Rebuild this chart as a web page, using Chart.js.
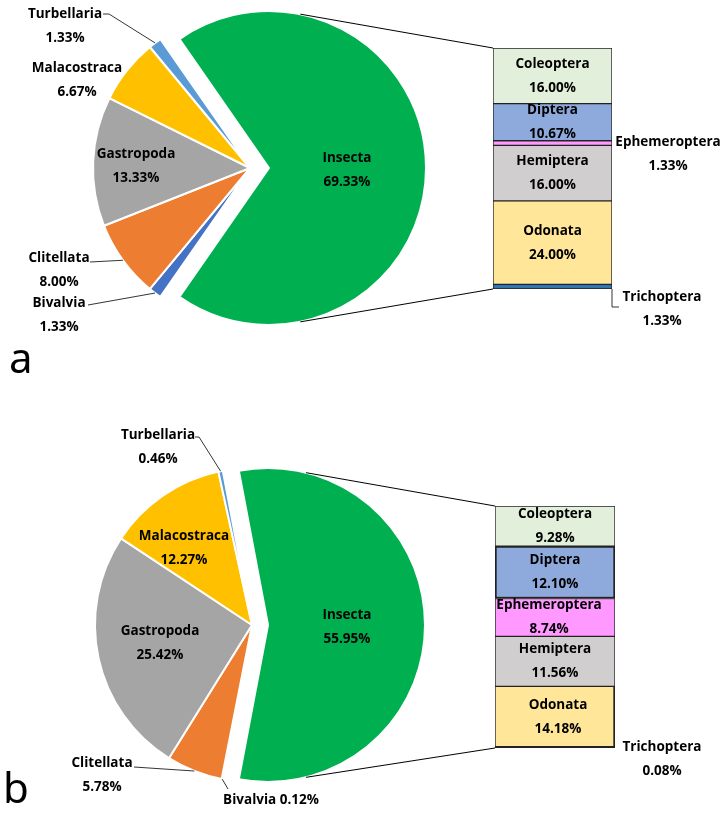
<!DOCTYPE html>
<html><head><meta charset="utf-8">
<script src="https://cdn.jsdelivr.net/npm/chart.js@4.4.0/dist/chart.umd.min.js"></script>
<style>
html,body{margin:0;padding:0;background:#fff;}
.panel{position:absolute;left:0;width:728px;}
.panel canvas{position:absolute;left:0;top:0;}
.tag{position:absolute;font:42px 'Noto Sans',sans-serif;color:#000;line-height:1;}
</style></head><body>
<div class="panel" style="top:0;height:400px"><canvas id="pieA" width="728" height="400"></canvas><canvas id="barA" width="728" height="400"></canvas><div class="tag" style="left:9px;top:336px">a</div></div>
<div class="panel" style="top:400px;height:414px"><canvas id="pieB" width="728" height="414"></canvas><canvas id="barB" width="728" height="414"></canvas><div class="tag" style="left:3px;top:366px">b</div></div>
<script>
/* pie-of-bar: class composition, Insecta split into orders */
const classes=['Insecta','Bivalvia','Clitellata','Gastropoda','Malacostraca','Turbellaria'];
const classColors=['#00B050','#4472C4','#ED7D31','#A5A5A5','#FFC000','#5B9BD5'];
const orders=['Coleoptera','Diptera','Ephemeroptera','Hemiptera','Odonata','Trichoptera'];
const orderColors=['#E2EFDA','#8EA9DB','#FF99FF','#D0CECE','#FFE699','#2E75B6'];
const classPctA=[69.33,1.33,8.00,13.33,6.67,1.33];
const orderPctA=[16.00,10.67,1.33,16.00,24.00,1.33];
const classPctB=[55.95,0.12,5.78,25.42,12.27,0.46];
const orderPctB=[9.28,12.10,8.74,11.56,14.18,0.08];

const FONT='bold 13.5px "Open Sans", sans-serif';
const GAP=12;
function pct(v){ return v.toFixed(2)+'%'; }
function txt(ctx,lines,x,y){
  ctx.font=FONT; ctx.fillStyle='#000'; ctx.textAlign='center'; ctx.textBaseline='middle';
  if(lines.length===1){ ctx.fillText(lines[0],x,y); return; }
  ctx.fillText(lines[0],x,y-GAP); ctx.fillText(lines[1],x,y+GAP);
}
function poly(ctx,pts,w){
  ctx.save(); ctx.strokeStyle='#000'; ctx.lineWidth=w||1; ctx.beginPath();
  pts.forEach((p,i)=>i?ctx.lineTo(p[0],p[1]):ctx.moveTo(p[0],p[1])); ctx.stroke(); ctx.restore();
}

// pull the first slice (Insecta) out of the pie
const explode={id:'explode',beforeDatasetsDraw(c,a,o){
  const ca=c.chartArea, el=c.getDatasetMeta(0).data[0];
  const m=(el.startAngle+el.endAngle)/2;
  el.x=(ca.left+ca.right)/2+Math.cos(m)*o.d; el.y=(ca.top+ca.bottom)/2+Math.sin(m)*o.d;
}};
const pieLabels={id:'pieLabels',afterDraw(c,a,o){
  const ctx=c.ctx, arcs=c.getDatasetMeta(0).data, vals=c.data.datasets[0].data;
  o.items.forEach(L=>{
    const el=arcs[L.i];
    if(L.leader){
      const m=(el.startAngle+el.endAngle)/2;
      poly(ctx,L.leader.concat([[el.x+Math.cos(m)*el.outerRadius, el.y+Math.sin(m)*el.outerRadius]]),0.8);
    }
    const name=c.data.labels[L.i];
    txt(ctx,L.one?[name+' '+pct(vals[L.i])]:[name,pct(vals[L.i])],L.x,L.y);
  });
}};
const barLabels={id:'barLabels',afterDraw(c,a,o){
  const ctx=c.ctx;
  // connector lines from the split slice to the bar
  const g=o.pie.getDatasetMeta(0).data[0], th=o.connAngle*Math.PI/180;
  const y=c.scales.y, b0=c.getDatasetMeta(0).data[0], left=b0.x-b0.width/2;
  poly(ctx,[[g.x+Math.cos(-th)*g.outerRadius,g.y+Math.sin(-th)*g.outerRadius],[left,y.getPixelForValue(0)]],1);
  poly(ctx,[[g.x+Math.cos(th)*g.outerRadius,g.y+Math.sin(th)*g.outerRadius],[left,y.getPixelForValue(y.max)]],1);
  c.data.datasets.forEach((ds,k)=>{
    const el=c.getDatasetMeta(k).data[0], lines=[ds.label,pct(ds.data[0])];
    const out=o.out[k];
    if(out){ if(out.leader) poly(ctx,out.leader,0.8); txt(ctx,lines,out.x,out.y); }
    else txt(ctx,lines,el.x+((o.dx||{})[k]||0),(el.y+el.base)/2);
  });
}};

function pieOfBar(p){
  const R=p.r+10;
  const pie=new Chart(document.getElementById(p.pieId),{
    type:'pie',
    data:{labels:classes,datasets:[{data:p.classPct,backgroundColor:classColors,borderColor:'#fff',borderWidth:2,radius:p.r}]},
    options:{responsive:false,animation:false,events:[],rotation:90-p.classPct[0]*1.8,
      layout:{padding:{left:p.cx-R,right:p.W-p.cx-R,top:p.cy-R,bottom:p.H-p.cy-R}},
      plugins:{legend:{display:false},tooltip:{enabled:false},explode:{d:p.explode},pieLabels:{items:p.pieLabels}}},
    plugins:[explode,pieLabels]
  });
  const sum=p.orderPct.reduce((s,v)=>s+v,0);
  new Chart(document.getElementById(p.barId),{
    type:'bar',
    data:{labels:['Insecta'],datasets:orders.map((o,k)=>({label:o,data:[p.orderPct[k]],backgroundColor:orderColors[k],
      borderColor:'#222',borderWidth:(p.borders[k]||1),borderSkipped:false,barPercentage:1,categoryPercentage:1}))},
    options:{responsive:false,animation:false,events:[],layout:{padding:p.barPad},
      plugins:{legend:{display:false},tooltip:{enabled:false},barLabels:{pie,connAngle:p.connAngle,out:p.barOut,dx:p.barDx}},
      scales:{x:{display:false,stacked:true},y:{display:false,stacked:true,reverse:true,min:0,max:sum}}},
    plugins:[barLabels]
  });
}

pieOfBar({pieId:'pieA',barId:'barA',W:728,H:400,classPct:classPctA,orderPct:orderPctA,
  cx:250,cy:168,r:157,explode:19,connAngle:78.5,
  barPad:{left:493,right:116,top:48,bottom:111},borders:{},
  pieLabels:[
    {i:0,x:347,y:170},{i:3,x:136,y:166},{i:4,x:77,y:80},
    {i:5,x:65,y:26,leader:[[103,14],[109,14]]},
    {i:2,x:59,y:270,leader:[[90,262]]},
    {i:1,x:59,y:315,leader:[[88,305]]}],
  barOut:{2:{x:668,y:154},5:{x:662,y:309,leader:[[612,289],[612,307],[619,307]]}}
});
pieOfBar({pieId:'pieB',barId:'barB',W:728,H:414,classPct:classPctB,orderPct:orderPctB,
  cx:252,cy:225,r:157,explode:16,connAngle:76,
  barPad:{left:495,right:113,top:106,bottom:66},
  borders:{1:2,4:{top:1,left:1,right:2,bottom:2}},
  pieLabels:[
    {i:0,x:347,y:227},{i:3,x:160,y:243},{i:4,x:184,y:148},
    {i:5,x:158,y:47,leader:[[195,37],[199,37]]},
    {i:2,x:102,y:375,leader:[[134,367]]},
    {i:1,x:271,y:400,one:true,leader:[[228,389]]}],
  barOut:{5:{x:662,y:359}},barDx:{2:-6,4:3}
});
</script>
</body></html>
